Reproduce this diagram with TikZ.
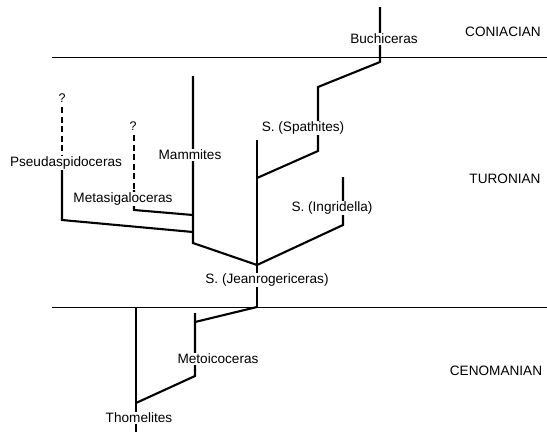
\documentclass[tikz,border=0pt]{standalone}
\usepackage{fontspec}
\setmainfont{Liberation Sans}
\begin{document}
\begin{tikzpicture}[x=1pt,y=-1pt,
  branch/.style={line width=2.1pt},
  guess/.style={line width=2.1pt,dash pattern=on 6pt off 3.5pt},
  bound/.style={line width=1pt},
  taxon/.style={fill=white,inner sep=0.8pt,font=\fontsize{13.6}{15}\selectfont},
  stage/.style={inner sep=0pt,font=\fontsize{13.6}{15}\selectfont},
  qm/.style={inner sep=0pt,font=\fontsize{12.5}{14}\selectfont}]
\useasboundingbox (0,0) rectangle (547,432);
% stage boundaries
\coordinate (t1) at (52,57);   \coordinate (t2) at (547,57);
\coordinate (b1) at (52,307);  \coordinate (b2) at (547,307);
\draw[bound] (t1) -- (t2);
\draw[bound] (b1) -- (b2);
% tree points
\coordinate (bu1) at (380,7);   \coordinate (bu2) at (380,62);
\coordinate (sp1) at (318,87);  \coordinate (sp2) at (318,151);
\coordinate (m0) at (257,140);  \coordinate (sj) at (257,178);
\coordinate (jn) at (257,265);  \coordinate (m2) at (257,307);
\coordinate (in1) at (343,177); \coordinate (in2) at (343,225);
\coordinate (ma1) at (193,76);  \coordinate (ma2) at (193,243);
\coordinate (maA) at (193,215); \coordinate (maB) at (193,232);
\coordinate (me0) at (134,135); \coordinate (me1) at (134,190); \coordinate (me2) at (134,210);
\coordinate (ps0) at (62,107);  \coordinate (ps1) at (62,163);  \coordinate (ps2) at (62,220);
\coordinate (mt1) at (195,313); \coordinate (mtj) at (195,322); \coordinate (mt2) at (195,376);
\coordinate (th1) at (136,307); \coordinate (thj) at (136,403); \coordinate (th2) at (136,432);
% branches
\draw[branch] (bu1) -- (bu2) -- (sp1) -- (sp2) -- (sj);
\draw[branch] (m0) -- (m2);
\draw[branch] (in1) -- (in2) -- (jn);
\draw[branch] (ma1) -- (ma2) -- (jn);
\draw[guess] (me0) -- (me1);
\draw[branch] (me1) -- (me2) -- (maA);
\draw[guess] (ps0) -- (ps1);
\draw[branch] (ps1) -- (ps2) -- (maB);
\draw[branch] (m2) -- (mtj);
\draw[branch] (mt1) -- (mt2) -- (thj);
\draw[branch] (th1) -- (th2);
% labels
\node[taxon] (lbu) at (384,39) {Buchiceras};
\node[taxon] (lsp) at (303,128) {S. (Spathites)};
\node[taxon] (lin) at (332,208) {S. (Ingridella)};
\node[taxon] (lje) at (267,280) {S. (Jeanrogericeras)};
\node[taxon] (lma) at (190,155) {Mammites};
\node[taxon] (lme) at (123,199) {Metasigaloceras};
\node[taxon] (lps) at (66,163) {Pseudaspidoceras};
\node[taxon] (lmt) at (218,359) {Metoicoceras};
\node[taxon] (lth) at (139,418) {Thomelites};
\node[qm] (q1) at (62,98) {?};
\node[qm] (q2) at (133,126) {?};
\node[stage] (sc) at (503,32) {CONIACIAN};
\node[stage] (st) at (505,179) {TURONIAN};
\node[stage] (sce) at (496,371) {CENOMANIAN};
\end{tikzpicture}
\end{document}
